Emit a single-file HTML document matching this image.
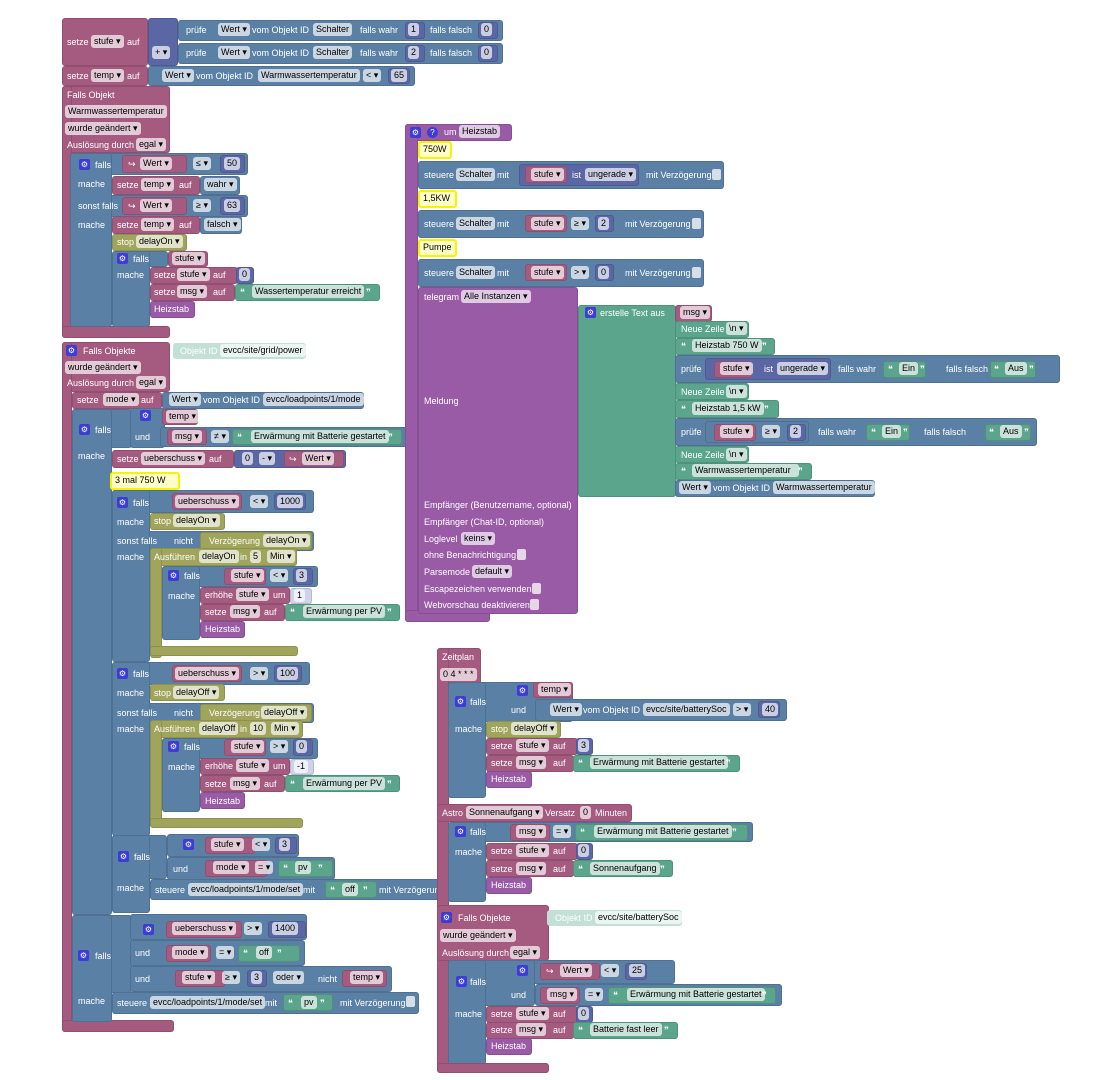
<!DOCTYPE html>
<html><head><meta charset="utf-8"><style>
body{margin:0;width:1106px;height:1080px;background:#fff;position:relative;overflow:hidden;font-family:"Liberation Sans",sans-serif;font-size:9px}
.r{position:absolute;box-sizing:border-box;border:1px solid rgba(0,0,0,.12);border-radius:3px}
.m{background:#a55b80}.b{background:#5b80a5}.l{background:#5b67a5}.g{background:#5ba58c}.o{background:#a0a55b}.p{background:#995ba5}
.q{background:#c2e0d6;border-color:#c2e0d6}
.y{background:#ffffc8;border:2px solid #f5f500;color:#000;padding-left:3px;line-height:13px;font-size:9px}
.t{position:absolute;color:#fff;line-height:12px;white-space:nowrap}
.f{position:absolute;background:rgba(255,255,255,.68);color:#000;height:13px;line-height:13px;padding:0 3px;border-radius:3px;white-space:nowrap}
.i{position:absolute;width:11px;height:11px;background:#3d3dd6;border-radius:2px;color:#fff;font-size:8px;text-align:center;line-height:11px}
.c{position:absolute;width:9px;height:11px;background:rgba(255,255,255,.75);border-radius:2px}
</style></head><body>

<!-- top blocks -->
<div class="r m" style="left:62px;top:18px;width:86px;height:48px"></div>
<span class="t" style="left:67px;top:36px">setze</span><span class="f" style="left:91px;top:35px">stufe ▾</span><span class="t" style="left:127px;top:36px">auf</span>
<div class="r l" style="left:148px;top:18px;width:30px;height:48px"></div>
<span class="f" style="left:152px;top:46px">+ ▾</span>
<div class="r b" style="left:178px;top:20px;width:325px;height:21px"></div>
<span class="t" style="left:186px;top:24px">prüfe</span><span class="f" style="left:218px;top:23px">Wert ▾</span><span class="t" style="left:252px;top:24px">vom Objekt ID</span><span class="f" style="left:313px;top:23px">Schalter</span><span class="t" style="left:360px;top:24px">falls wahr</span>
<div class="r l" style="left:405px;top:22px;width:20px;height:17px"></div><span class="f" style="left:408px;top:23px">1</span>
<span class="t" style="left:430px;top:24px">falls falsch</span><div class="r l" style="left:478px;top:22px;width:20px;height:17px"></div><span class="f" style="left:481px;top:23px">0</span>
<div class="r b" style="left:178px;top:43px;width:325px;height:21px"></div>
<span class="t" style="left:186px;top:47px">prüfe</span><span class="f" style="left:218px;top:46px">Wert ▾</span><span class="t" style="left:252px;top:47px">vom Objekt ID</span><span class="f" style="left:313px;top:46px">Schalter</span><span class="t" style="left:360px;top:47px">falls wahr</span>
<div class="r l" style="left:405px;top:45px;width:20px;height:17px"></div><span class="f" style="left:408px;top:46px">2</span>
<span class="t" style="left:430px;top:47px">falls falsch</span><div class="r l" style="left:478px;top:45px;width:20px;height:17px"></div><span class="f" style="left:481px;top:46px">0</span>
<div class="r m" style="left:62px;top:66px;width:86px;height:20px"></div>
<span class="t" style="left:67px;top:70px">setze</span><span class="f" style="left:91px;top:69px">temp ▾</span><span class="t" style="left:127px;top:70px">auf</span>
<div class="r b" style="left:148px;top:66px;width:267px;height:20px"></div>
<span class="f" style="left:162px;top:69px">Wert ▾</span><span class="t" style="left:196px;top:70px">vom Objekt ID</span><span class="f" style="left:258px;top:69px">Warmwassertemperatur</span><span class="f" style="left:363px;top:69px">&lt; ▾</span>
<div class="r l" style="left:388px;top:68px;width:22px;height:16px"></div><span class="f" style="left:391px;top:69px">65</span>

<!-- event 1 -->
<div class="r m" style="left:62px;top:86px;width:108px;height:67px"></div>
<div class="r m" style="left:62px;top:86px;width:10px;height:252px"></div>
<div class="r m" style="left:62px;top:326px;width:108px;height:12px"></div>
<span class="t" style="left:67px;top:89px">Falls Objekt</span>
<span class="f" style="left:65px;top:105px">Warmwassertemperatur</span>
<span class="f" style="left:65px;top:122px">wurde geändert ▾</span>
<span class="t" style="left:67px;top:139px">Auslösung durch</span><span class="f" style="left:136px;top:138px">egal ▾</span>
<div class="r b" style="left:70px;top:153px;width:178px;height:22px"></div>
<div class="r b" style="left:70px;top:195px;width:178px;height:22px"></div>
<div class="r b" style="left:70px;top:153px;width:42px;height:174px"></div>
<div class="i" style="left:79px;top:159px">⚙</div><span class="t" style="left:95px;top:159px">falls</span>
<div class="r m" style="left:122px;top:155px;width:65px;height:18px"></div><span class="t" style="left:128px;top:158px">↪</span><span class="f" style="left:140px;top:157px">Wert ▾</span>
<span class="f" style="left:193px;top:157px">≤ ▾</span><div class="r l" style="left:220px;top:155px;width:25px;height:18px"></div><span class="f" style="left:224px;top:157px">50</span>
<span class="t" style="left:78px;top:178px">mache</span>
<div class="r m" style="left:112px;top:176px;width:88px;height:19px"></div><span class="t" style="left:117px;top:179px">setze</span><span class="f" style="left:141px;top:178px">temp ▾</span><span class="t" style="left:179px;top:179px">auf</span>
<div class="r b" style="left:200px;top:176px;width:40px;height:19px"></div><span class="f" style="left:204px;top:178px">wahr ▾</span>
<span class="t" style="left:78px;top:200px">sonst falls</span>
<div class="r m" style="left:122px;top:197px;width:65px;height:18px"></div><span class="t" style="left:128px;top:200px">↪</span><span class="f" style="left:140px;top:199px">Wert ▾</span>
<span class="f" style="left:193px;top:199px">≥ ▾</span><div class="r l" style="left:220px;top:197px;width:25px;height:18px"></div><span class="f" style="left:224px;top:199px">63</span>
<span class="t" style="left:78px;top:219px">mache</span>
<div class="r m" style="left:112px;top:216px;width:88px;height:18px"></div><span class="t" style="left:117px;top:219px">setze</span><span class="f" style="left:141px;top:218px">temp ▾</span><span class="t" style="left:179px;top:219px">auf</span>
<div class="r b" style="left:200px;top:216px;width:42px;height:18px"></div><span class="f" style="left:204px;top:218px">falsch ▾</span>
<div class="r o" style="left:112px;top:234px;width:75px;height:17px"></div><span class="t" style="left:117px;top:236px">stop</span><span class="f" style="left:136px;top:235px">delayOn ▾</span>
<div class="r b" style="left:112px;top:251px;width:56px;height:16px"></div>
<div class="r b" style="left:112px;top:251px;width:38px;height:76px"></div>
<div class="i" style="left:117px;top:253px">⚙</div><span class="t" style="left:133px;top:253px">falls</span>
<div class="r m" style="left:168px;top:251px;width:40px;height:16px"></div><span class="f" style="left:172px;top:252px">stufe ▾</span>
<span class="t" style="left:117px;top:269px">mache</span>
<div class="r m" style="left:150px;top:267px;width:88px;height:17px"></div><span class="t" style="left:154px;top:269px">setze</span><span class="f" style="left:177px;top:268px">stufe ▾</span><span class="t" style="left:213px;top:269px">auf</span>
<div class="r l" style="left:236px;top:267px;width:18px;height:17px"></div><span class="f" style="left:239px;top:268px">0</span>
<div class="r m" style="left:150px;top:284px;width:85px;height:17px"></div><span class="t" style="left:154px;top:286px">setze</span><span class="f" style="left:177px;top:285px">msg ▾</span><span class="t" style="left:213px;top:286px">auf</span>
<div class="r g" style="left:235px;top:284px;width:145px;height:17px"></div><span class="t" style="left:240px;top:286px">❝</span><span class="f" style="left:252px;top:285px">Wassertemperatur erreicht</span><span class="t" style="left:366px;top:286px">❞</span>
<div class="r p" style="left:150px;top:301px;width:45px;height:17px"></div><span class="t" style="left:154px;top:303px">Heizstab</span>

<!-- event 2 -->
<div class="r m" style="left:62px;top:342px;width:108px;height:50px"></div>
<div class="r m" style="left:62px;top:342px;width:10px;height:690px"></div>
<div class="r m" style="left:62px;top:1020px;width:112px;height:12px"></div>
<div class="i" style="left:66px;top:345px">⚙</div><span class="t" style="left:83px;top:345px">Falls Objekte</span>
<div class="r q" style="left:173px;top:343px;width:133px;height:16px"></div><span class="t" style="left:180px;top:345px">Objekt ID</span><span class="f" style="left:220px;top:344px">evcc/site/grid/power</span>
<span class="f" style="left:65px;top:361px">wurde geändert ▾</span>
<span class="t" style="left:67px;top:377px">Auslösung durch</span><span class="f" style="left:136px;top:376px">egal ▾</span>
<div class="r m" style="left:72px;top:392px;width:90px;height:17px"></div><span class="t" style="left:77px;top:394px">setze</span><span class="f" style="left:103px;top:393px">mode ▾</span><span class="t" style="left:141px;top:394px">auf</span>
<div class="r b" style="left:162px;top:392px;width:202px;height:17px"></div><span class="f" style="left:169px;top:393px">Wert ▾</span><span class="t" style="left:203px;top:394px">vom Objekt ID</span><span class="f" style="left:263px;top:393px">evcc/loadpoints/1/mode</span>
<!-- big falls -->
<div class="r b" style="left:72px;top:409px;width:60px;height:39px"></div>
<div class="r b" style="left:72px;top:409px;width:40px;height:506px"></div>
<div class="i" style="left:79px;top:424px">⚙</div><span class="t" style="left:95px;top:424px">falls</span>
<div class="r b" style="left:130px;top:408px;width:35px;height:40px"></div>
<div class="i" style="left:140px;top:410px">⚙</div>
<div class="r m" style="left:162px;top:409px;width:36px;height:16px"></div><span class="f" style="left:166px;top:410px">temp ▾</span>
<span class="t" style="left:135px;top:431px">und</span>
<div class="r b" style="left:160px;top:427px;width:248px;height:20px"></div>
<div class="r m" style="left:167px;top:429px;width:40px;height:16px"></div><span class="f" style="left:172px;top:430px">msg ▾</span><span class="f" style="left:211px;top:430px">≠ ▾</span>
<div class="r g" style="left:232px;top:429px;width:170px;height:16px"></div><span class="t" style="left:237px;top:431px">❝</span><span class="f" style="left:251px;top:430px">Erwärmung mit Batterie gestartet</span><span class="t" style="left:388px;top:431px">❞</span>
<span class="t" style="left:78px;top:450px">mache</span>
<div class="r m" style="left:112px;top:450px;width:122px;height:18px"></div><span class="t" style="left:117px;top:453px">setze</span><span class="f" style="left:141px;top:452px">ueberschuss ▾</span><span class="t" style="left:209px;top:453px">auf</span>
<div class="r l" style="left:234px;top:450px;width:112px;height:18px"></div><span class="f" style="left:242px;top:452px">0</span><span class="f" style="left:259px;top:452px">- ▾</span>
<div class="r m" style="left:284px;top:451px;width:60px;height:16px"></div><span class="t" style="left:289px;top:453px">↪</span><span class="f" style="left:302px;top:452px">Wert ▾</span>
<div class="r y" style="left:110px;top:472px;width:70px;height:18px">3 mal 750 W</div>
<!-- falls 1000 -->
<div class="r b" style="left:112px;top:490px;width:202px;height:23px"></div>
<div class="r b" style="left:112px;top:531px;width:202px;height:20px"></div>
<div class="r b" style="left:112px;top:490px;width:38px;height:172px"></div>
<div class="i" style="left:117px;top:497px">⚙</div><span class="t" style="left:133px;top:497px">falls</span>
<div class="r m" style="left:172px;top:493px;width:70px;height:17px"></div><span class="f" style="left:175px;top:495px">ueberschuss ▾</span><span class="f" style="left:250px;top:495px">&lt; ▾</span>
<div class="r l" style="left:274px;top:493px;width:32px;height:17px"></div><span class="f" style="left:277px;top:495px">1000</span>
<span class="t" style="left:117px;top:516px">mache</span>
<div class="r o" style="left:150px;top:513px;width:75px;height:17px"></div><span class="t" style="left:154px;top:515px">stop</span><span class="f" style="left:173px;top:514px">delayOn ▾</span>
<span class="t" style="left:117px;top:535px">sonst falls</span><span class="t" style="left:174px;top:535px">nicht</span>
<div class="r o" style="left:200px;top:532px;width:112px;height:18px"></div><span class="t" style="left:209px;top:535px">Verzögerung</span><span class="f" style="left:263px;top:534px">delayOn ▾</span>
<span class="t" style="left:117px;top:551px">mache</span>
<div class="r o" style="left:150px;top:548px;width:147px;height:18px"></div><div class="r o" style="left:150px;top:548px;width:12px;height:110px"></div><div class="r o" style="left:150px;top:646px;width:148px;height:10px"></div>
<span class="t" style="left:154px;top:551px">Ausführen</span><span class="f" style="left:199px;top:550px">delayOn</span><span class="t" style="left:240px;top:551px">in</span><span class="f" style="left:250px;top:550px">5</span><span class="f" style="left:267px;top:550px">Min ▾</span>
<div class="r b" style="left:162px;top:566px;width:156px;height:21px"></div>
<div class="r b" style="left:162px;top:566px;width:38px;height:74px"></div>
<div class="i" style="left:168px;top:570px">⚙</div><span class="t" style="left:184px;top:570px">falls</span>
<div class="r m" style="left:224px;top:568px;width:42px;height:17px"></div><span class="f" style="left:231px;top:569px">stufe ▾</span><span class="f" style="left:270px;top:569px">&lt; ▾</span>
<div class="r l" style="left:293px;top:568px;width:20px;height:17px"></div><span class="f" style="left:296px;top:569px">3</span>
<span class="t" style="left:168px;top:590px">mache</span>
<div class="r m" style="left:200px;top:587px;width:90px;height:17px"></div><span class="t" style="left:205px;top:589px">erhöhe</span><span class="f" style="left:236px;top:588px">stufe ▾</span><span class="t" style="left:273px;top:589px">um</span>
<div class="r" style="left:290px;top:588px;width:22px;height:16px;background:#cfd3ea"></div><span class="f" style="left:294px;top:589px">1</span>
<div class="r m" style="left:200px;top:604px;width:85px;height:17px"></div><span class="t" style="left:205px;top:606px">setze</span><span class="f" style="left:230px;top:605px">msg ▾</span><span class="t" style="left:264px;top:606px">auf</span>
<div class="r g" style="left:285px;top:604px;width:115px;height:17px"></div><span class="t" style="left:290px;top:606px">❝</span><span class="f" style="left:303px;top:605px">Erwärmung per PV</span><span class="t" style="left:387px;top:606px">❞</span>
<div class="r p" style="left:200px;top:621px;width:45px;height:17px"></div><span class="t" style="left:205px;top:623px">Heizstab</span>
<!-- falls 100 -->
<div class="r b" style="left:112px;top:662px;width:198px;height:23px"></div>
<div class="r b" style="left:112px;top:703px;width:202px;height:20px"></div>
<div class="r b" style="left:112px;top:662px;width:38px;height:174px"></div>
<div class="i" style="left:117px;top:668px">⚙</div><span class="t" style="left:133px;top:668px">falls</span>
<div class="r m" style="left:172px;top:665px;width:70px;height:17px"></div><span class="f" style="left:175px;top:667px">ueberschuss ▾</span><span class="f" style="left:250px;top:667px">&gt; ▾</span>
<div class="r l" style="left:274px;top:665px;width:28px;height:17px"></div><span class="f" style="left:277px;top:667px">100</span>
<span class="t" style="left:117px;top:687px">mache</span>
<div class="r o" style="left:150px;top:684px;width:75px;height:17px"></div><span class="t" style="left:154px;top:687px">stop</span><span class="f" style="left:173px;top:686px">delayOff ▾</span>
<span class="t" style="left:117px;top:707px">sonst falls</span><span class="t" style="left:174px;top:707px">nicht</span>
<div class="r o" style="left:200px;top:704px;width:112px;height:18px"></div><span class="t" style="left:209px;top:707px">Verzögerung</span><span class="f" style="left:261px;top:706px">delayOff ▾</span>
<span class="t" style="left:117px;top:723px">mache</span>
<div class="r o" style="left:150px;top:720px;width:153px;height:18px"></div><div class="r o" style="left:150px;top:720px;width:12px;height:108px"></div><div class="r o" style="left:150px;top:818px;width:153px;height:10px"></div>
<span class="t" style="left:154px;top:723px">Ausführen</span><span class="f" style="left:199px;top:722px">delayOff</span><span class="t" style="left:240px;top:723px">in</span><span class="f" style="left:250px;top:722px">10</span><span class="f" style="left:271px;top:722px">Min ▾</span>
<div class="r b" style="left:162px;top:738px;width:156px;height:21px"></div>
<div class="r b" style="left:162px;top:738px;width:38px;height:74px"></div>
<div class="i" style="left:168px;top:741px">⚙</div><span class="t" style="left:184px;top:741px">falls</span>
<div class="r m" style="left:224px;top:739px;width:42px;height:17px"></div><span class="f" style="left:231px;top:740px">stufe ▾</span><span class="f" style="left:270px;top:740px">&gt; ▾</span>
<div class="r l" style="left:293px;top:739px;width:20px;height:17px"></div><span class="f" style="left:296px;top:740px">0</span>
<span class="t" style="left:168px;top:761px">mache</span>
<div class="r m" style="left:200px;top:758px;width:90px;height:17px"></div><span class="t" style="left:205px;top:760px">erhöhe</span><span class="f" style="left:236px;top:759px">stufe ▾</span><span class="t" style="left:273px;top:760px">um</span>
<div class="r" style="left:290px;top:759px;width:24px;height:16px;background:#cfd3ea"></div><span class="f" style="left:294px;top:760px">-1</span>
<div class="r m" style="left:200px;top:775px;width:85px;height:17px"></div><span class="t" style="left:205px;top:778px">setze</span><span class="f" style="left:230px;top:777px">msg ▾</span><span class="t" style="left:264px;top:778px">auf</span>
<div class="r g" style="left:285px;top:775px;width:115px;height:17px"></div><span class="t" style="left:290px;top:778px">❝</span><span class="f" style="left:303px;top:777px">Erwärmung per PV</span><span class="t" style="left:387px;top:778px">❞</span>
<div class="r p" style="left:200px;top:792px;width:45px;height:17px"></div><span class="t" style="left:205px;top:795px">Heizstab</span>
<!-- falls stufe<3 -->
<div class="r b" style="left:112px;top:835px;width:55px;height:44px"></div>
<div class="r b" style="left:112px;top:835px;width:38px;height:78px"></div>
<div class="i" style="left:118px;top:851px">⚙</div><span class="t" style="left:134px;top:851px">falls</span>
<div class="r b" style="left:167px;top:834px;width:132px;height:23px"></div>
<div class="r b" style="left:167px;top:857px;width:168px;height:23px"></div>
<div class="i" style="left:183px;top:839px">⚙</div>
<div class="r m" style="left:205px;top:837px;width:50px;height:17px"></div><span class="f" style="left:211px;top:838px">stufe ▾</span><span class="f" style="left:252px;top:838px">&lt; ▾</span>
<div class="r l" style="left:275px;top:837px;width:22px;height:17px"></div><span class="f" style="left:279px;top:838px">3</span>
<span class="t" style="left:173px;top:863px">und</span>
<div class="r m" style="left:205px;top:860px;width:62px;height:17px"></div><span class="f" style="left:213px;top:861px">mode ▾</span><span class="f" style="left:255px;top:861px">= ▾</span>
<div class="r g" style="left:278px;top:860px;width:55px;height:17px"></div><span class="t" style="left:283px;top:862px">❝</span><span class="f" style="left:295px;top:861px">pv</span><span class="t" style="left:318px;top:862px">❞</span>
<span class="t" style="left:117px;top:882px">mache</span>
<div class="r b" style="left:150px;top:879px;width:292px;height:21px"></div>
<span class="t" style="left:155px;top:884px">steuere</span><span class="f" style="left:188px;top:883px">evcc/loadpoints/1/mode/set</span><span class="t" style="left:303px;top:884px">mit</span>
<div class="r g" style="left:325px;top:881px;width:52px;height:17px"></div><span class="t" style="left:330px;top:884px">❝</span><span class="f" style="left:342px;top:883px">off</span><span class="t" style="left:363px;top:884px">❞</span>
<span class="t" style="left:379px;top:884px">mit Verzögerung</span>
<!-- falls 1400 -->
<div class="r b" style="left:72px;top:915px;width:60px;height:78px"></div>
<div class="r b" style="left:72px;top:915px;width:40px;height:107px"></div>
<div class="i" style="left:78px;top:950px">⚙</div><span class="t" style="left:95px;top:950px">falls</span>
<div class="r b" style="left:130px;top:914px;width:177px;height:26px"></div>
<div class="r b" style="left:130px;top:940px;width:175px;height:26px"></div>
<div class="r b" style="left:130px;top:966px;width:262px;height:26px"></div>
<div class="i" style="left:143px;top:924px">⚙</div>
<div class="r m" style="left:166px;top:921px;width:76px;height:17px"></div><span class="f" style="left:172px;top:922px">ueberschuss ▾</span><span class="f" style="left:244px;top:922px">&gt; ▾</span>
<div class="r l" style="left:268px;top:921px;width:38px;height:17px"></div><span class="f" style="left:272px;top:922px">1400</span>
<span class="t" style="left:135px;top:947px">und</span>
<div class="r m" style="left:166px;top:945px;width:45px;height:17px"></div><span class="f" style="left:172px;top:946px">mode ▾</span><span class="f" style="left:216px;top:946px">= ▾</span>
<div class="r g" style="left:238px;top:945px;width:62px;height:17px"></div><span class="t" style="left:243px;top:947px">❝</span><span class="f" style="left:256px;top:946px">off</span><span class="t" style="left:277px;top:947px">❞</span>
<span class="t" style="left:135px;top:973px">und</span>
<div class="r m" style="left:175px;top:970px;width:50px;height:17px"></div><span class="f" style="left:182px;top:971px">stufe ▾</span><span class="f" style="left:222px;top:971px">≥ ▾</span>
<div class="r l" style="left:247px;top:970px;width:20px;height:17px"></div><span class="f" style="left:251px;top:971px">3</span>
<span class="f" style="left:273px;top:971px">oder ▾</span><span class="t" style="left:318px;top:973px">nicht</span>
<div class="r m" style="left:342px;top:970px;width:45px;height:17px"></div><span class="f" style="left:350px;top:971px">temp ▾</span>
<span class="t" style="left:78px;top:995px">mache</span>
<div class="r b" style="left:112px;top:992px;width:307px;height:22px"></div>
<span class="t" style="left:117px;top:997px">steuere</span><span class="f" style="left:150px;top:996px">evcc/loadpoints/1/mode/set</span><span class="t" style="left:265px;top:997px">mit</span>
<div class="r g" style="left:283px;top:994px;width:50px;height:17px"></div><span class="t" style="left:288px;top:997px">❝</span><span class="f" style="left:301px;top:996px">pv</span><span class="t" style="left:320px;top:997px">❞</span>
<span class="t" style="left:340px;top:997px">mit Verzögerung</span><div class="c" style="left:406px;top:996px"></div>

<!-- procedure Heizstab -->
<div class="r p" style="left:405px;top:124px;width:107px;height:17px"></div>
<div class="r p" style="left:405px;top:124px;width:13px;height:498px"></div>
<div class="r p" style="left:405px;top:610px;width:85px;height:12px"></div>
<div class="i" style="left:410px;top:127px">⚙</div><div class="i" style="left:427px;top:127px;border-radius:6px">?</div>
<span class="t" style="left:444px;top:126px">um</span><span class="f" style="left:459px;top:125px">Heizstab</span>
<div class="r y" style="left:418px;top:141px;width:34px;height:18px">750W</div>
<div class="r b" style="left:418px;top:161px;width:306px;height:28px"></div>
<span class="t" style="left:424px;top:169px">steuere</span><span class="f" style="left:456px;top:168px">Schalter</span><span class="t" style="left:497px;top:169px">mit</span>
<div class="r l" style="left:519px;top:164px;width:120px;height:22px"></div>
<div class="r m" style="left:525px;top:166px;width:42px;height:17px"></div><span class="f" style="left:531px;top:168px">stufe ▾</span><span class="t" style="left:572px;top:169px">ist</span><span class="f" style="left:585px;top:168px">ungerade ▾</span>
<span class="t" style="left:646px;top:169px">mit Verzögerung</span><div class="c" style="left:712px;top:169px"></div>
<div class="r y" style="left:418px;top:190px;width:39px;height:18px">1,5KW</div>
<div class="r b" style="left:418px;top:210px;width:286px;height:28px"></div>
<span class="t" style="left:424px;top:218px">steuere</span><span class="f" style="left:456px;top:217px">Schalter</span><span class="t" style="left:497px;top:218px">mit</span>
<div class="r m" style="left:525px;top:215px;width:42px;height:17px"></div><span class="f" style="left:531px;top:217px">stufe ▾</span><span class="f" style="left:571px;top:217px">≥ ▾</span>
<div class="r l" style="left:595px;top:215px;width:19px;height:17px"></div><span class="f" style="left:598px;top:217px">2</span>
<span class="t" style="left:625px;top:218px">mit Verzögerung</span><div class="c" style="left:692px;top:218px"></div>
<div class="r y" style="left:418px;top:239px;width:39px;height:18px">Pumpe</div>
<div class="r b" style="left:418px;top:259px;width:286px;height:28px"></div>
<span class="t" style="left:424px;top:267px">steuere</span><span class="f" style="left:456px;top:266px">Schalter</span><span class="t" style="left:497px;top:267px">mit</span>
<div class="r m" style="left:525px;top:264px;width:42px;height:17px"></div><span class="f" style="left:531px;top:266px">stufe ▾</span><span class="f" style="left:571px;top:266px">&gt; ▾</span>
<div class="r l" style="left:595px;top:264px;width:19px;height:17px"></div><span class="f" style="left:598px;top:266px">0</span>
<span class="t" style="left:625px;top:267px">mit Verzögerung</span><div class="c" style="left:692px;top:267px"></div>
<div class="r p" style="left:418px;top:287px;width:160px;height:327px"></div>
<span class="t" style="left:424px;top:291px">telegram</span><span class="f" style="left:461px;top:290px">Alle Instanzen ▾</span>
<span class="t" style="left:424px;top:395px">Meldung</span>
<span class="t" style="left:424px;top:499px">Empfänger (Benutzername, optional)</span>
<span class="t" style="left:424px;top:516px">Empfänger (Chat-ID, optional)</span>
<span class="t" style="left:424px;top:533px">Loglevel</span><span class="f" style="left:461px;top:532px">keins ▾</span>
<span class="t" style="left:424px;top:549px">ohne Benachrichtigung</span><div class="c" style="left:517px;top:549px"></div>
<span class="t" style="left:424px;top:566px">Parsemode</span><span class="f" style="left:472px;top:565px">default ▾</span>
<span class="t" style="left:424px;top:583px">Escapezeichen verwenden</span><div class="c" style="left:532px;top:583px"></div>
<span class="t" style="left:424px;top:599px">Webvorschau deaktivieren</span><div class="c" style="left:530px;top:599px"></div>
<div class="r g" style="left:578px;top:305px;width:98px;height:192px"></div>
<div class="i" style="left:585px;top:307px">⚙</div><span class="t" style="left:600px;top:307px">erstelle Text aus</span>
<div class="r m" style="left:675px;top:305px;width:37px;height:17px"></div><span class="f" style="left:680px;top:306px">msg ▾</span>
<div class="r g" style="left:675px;top:321px;width:74px;height:17px"></div><span class="t" style="left:681px;top:323px">Neue Zeile</span><span class="f" style="left:726px;top:322px">\n ▾</span>
<div class="r g" style="left:675px;top:338px;width:100px;height:17px"></div><span class="t" style="left:681px;top:340px">❝</span><span class="f" style="left:692px;top:339px">Heizstab 750 W</span><span class="t" style="left:762px;top:340px">❞</span>
<div class="r b" style="left:675px;top:355px;width:385px;height:28px"></div>
<span class="t" style="left:681px;top:363px">prüfe</span>
<div class="r l" style="left:705px;top:358px;width:126px;height:22px"></div>
<div class="r m" style="left:714px;top:361px;width:38px;height:17px"></div><span class="f" style="left:720px;top:362px">stufe ▾</span><span class="t" style="left:764px;top:363px">ist</span><span class="f" style="left:777px;top:362px">ungerade ▾</span>
<span class="t" style="left:838px;top:363px">falls wahr</span>
<div class="r g" style="left:883px;top:361px;width:43px;height:17px"></div><span class="t" style="left:888px;top:363px">❝</span><span class="f" style="left:899px;top:362px">Ein</span><span class="t" style="left:920px;top:363px">❞</span>
<span class="t" style="left:946px;top:363px">falls falsch</span>
<div class="r g" style="left:990px;top:361px;width:46px;height:17px"></div><span class="t" style="left:994px;top:363px">❝</span><span class="f" style="left:1005px;top:362px">Aus</span><span class="t" style="left:1029px;top:363px">❞</span>
<div class="r g" style="left:675px;top:383px;width:74px;height:17px"></div><span class="t" style="left:681px;top:386px">Neue Zeile</span><span class="f" style="left:726px;top:385px">\n ▾</span>
<div class="r g" style="left:675px;top:400px;width:104px;height:18px"></div><span class="t" style="left:681px;top:403px">❝</span><span class="f" style="left:692px;top:402px">Heizstab 1,5 kW</span><span class="t" style="left:764px;top:403px">❞</span>
<div class="r b" style="left:675px;top:418px;width:362px;height:28px"></div>
<span class="t" style="left:681px;top:426px">prüfe</span>
<div class="r b" style="left:705px;top:421px;width:104px;height:22px"></div>
<div class="r m" style="left:714px;top:424px;width:42px;height:17px"></div><span class="f" style="left:720px;top:425px">stufe ▾</span><span class="f" style="left:762px;top:425px">≥ ▾</span>
<div class="r l" style="left:787px;top:424px;width:19px;height:17px"></div><span class="f" style="left:790px;top:425px">2</span>
<span class="t" style="left:818px;top:426px">falls wahr</span>
<div class="r g" style="left:866px;top:424px;width:44px;height:17px"></div><span class="t" style="left:871px;top:426px">❝</span><span class="f" style="left:882px;top:425px">Ein</span><span class="t" style="left:903px;top:426px">❞</span>
<span class="t" style="left:924px;top:426px">falls falsch</span>
<div class="r g" style="left:985px;top:424px;width:46px;height:17px"></div><span class="t" style="left:989px;top:426px">❝</span><span class="f" style="left:1000px;top:425px">Aus</span><span class="t" style="left:1024px;top:426px">❞</span>
<div class="r g" style="left:675px;top:446px;width:74px;height:17px"></div><span class="t" style="left:681px;top:449px">Neue Zeile</span><span class="f" style="left:726px;top:448px">\n ▾</span>
<div class="r g" style="left:675px;top:463px;width:137px;height:17px"></div><span class="t" style="left:681px;top:465px">❝</span><span class="f" style="left:692px;top:464px">Warmwassertemperatur&nbsp;&nbsp;</span><span class="t" style="left:798px;top:465px">❞</span>
<div class="r b" style="left:675px;top:480px;width:200px;height:17px"></div><span class="f" style="left:679px;top:481px">Wert ▾</span><span class="t" style="left:713px;top:482px">vom Objekt ID</span><span class="f" style="left:773px;top:481px">Warmwassertemperatur</span>

<!-- Zeitplan column -->
<div class="r m" style="left:437px;top:648px;width:44px;height:36px"></div>
<div class="r m" style="left:437px;top:648px;width:12px;height:425px"></div>
<span class="t" style="left:442px;top:651px">Zeitplan</span><span class="f" style="left:440px;top:668px">0 4 * * *</span>
<div class="r b" style="left:448px;top:682px;width:125px;height:40px"></div>
<div class="r b" style="left:448px;top:682px;width:38px;height:116px"></div>
<div class="i" style="left:455px;top:696px">⚙</div><span class="t" style="left:470px;top:696px">falls</span>
<div class="i" style="left:517px;top:685px">⚙</div>
<div class="r m" style="left:533px;top:682px;width:40px;height:16px"></div><span class="f" style="left:538px;top:683px">temp ▾</span>
<span class="t" style="left:511px;top:704px">und</span>
<div class="r b" style="left:535px;top:699px;width:252px;height:22px"></div>
<span class="f" style="left:550px;top:703px">Wert ▾</span><span class="t" style="left:583px;top:704px">vom Objekt ID</span><span class="f" style="left:643px;top:703px">evcc/site/batterySoc</span><span class="f" style="left:733px;top:703px">&gt; ▾</span>
<div class="r l" style="left:758px;top:701px;width:22px;height:17px"></div><span class="f" style="left:762px;top:703px">40</span>
<span class="t" style="left:455px;top:723px">mache</span>
<div class="r o" style="left:486px;top:721px;width:75px;height:17px"></div><span class="t" style="left:491px;top:723px">stop</span><span class="f" style="left:511px;top:722px">delayOff ▾</span>
<div class="r m" style="left:486px;top:738px;width:92px;height:17px"></div><span class="t" style="left:491px;top:740px">setze</span><span class="f" style="left:516px;top:739px">stufe ▾</span><span class="t" style="left:553px;top:740px">auf</span>
<div class="r l" style="left:576px;top:738px;width:17px;height:17px"></div><span class="f" style="left:578px;top:739px">3</span>
<div class="r m" style="left:486px;top:755px;width:88px;height:17px"></div><span class="t" style="left:491px;top:757px">setze</span><span class="f" style="left:516px;top:756px">msg ▾</span><span class="t" style="left:553px;top:757px">auf</span>
<div class="r g" style="left:573px;top:755px;width:167px;height:17px"></div><span class="t" style="left:578px;top:757px">❝</span><span class="f" style="left:590px;top:756px">Erwärmung mit Batterie gestartet</span><span class="t" style="left:726px;top:757px">❞</span>
<div class="r p" style="left:486px;top:771px;width:46px;height:17px"></div><span class="t" style="left:491px;top:773px">Heizstab</span>
<div class="r m" style="left:437px;top:804px;width:195px;height:18px"></div>
<span class="t" style="left:442px;top:807px">Astro</span><span class="f" style="left:466px;top:806px">Sonnenaufgang ▾</span><span class="t" style="left:540px;top:807px">, Versatz</span><span class="f" style="left:580px;top:806px">0</span><span class="t" style="left:595px;top:807px">Minuten</span>
<div class="r b" style="left:448px;top:822px;width:305px;height:20px"></div>
<div class="r b" style="left:448px;top:822px;width:38px;height:80px"></div>
<div class="i" style="left:455px;top:826px">⚙</div><span class="t" style="left:470px;top:826px">falls</span>
<div class="r m" style="left:510px;top:824px;width:40px;height:17px"></div><span class="f" style="left:516px;top:825px">msg ▾</span><span class="f" style="left:553px;top:825px">= ▾</span>
<div class="r g" style="left:575px;top:824px;width:173px;height:17px"></div><span class="t" style="left:580px;top:826px">❝</span><span class="f" style="left:594px;top:825px">Erwärmung mit Batterie gestartet</span><span class="t" style="left:732px;top:826px">❞</span>
<span class="t" style="left:455px;top:846px">mache</span>
<div class="r m" style="left:486px;top:843px;width:92px;height:17px"></div><span class="t" style="left:491px;top:845px">setze</span><span class="f" style="left:516px;top:844px">stufe ▾</span><span class="t" style="left:553px;top:845px">auf</span>
<div class="r l" style="left:576px;top:843px;width:17px;height:17px"></div><span class="f" style="left:578px;top:844px">0</span>
<div class="r m" style="left:486px;top:860px;width:88px;height:17px"></div><span class="t" style="left:491px;top:863px">setze</span><span class="f" style="left:516px;top:862px">msg ▾</span><span class="t" style="left:553px;top:863px">auf</span>
<div class="r g" style="left:573px;top:860px;width:100px;height:17px"></div><span class="t" style="left:578px;top:863px">❝</span><span class="f" style="left:590px;top:862px">Sonnenaufgang</span><span class="t" style="left:660px;top:863px">❞</span>
<div class="r p" style="left:486px;top:877px;width:46px;height:17px"></div><span class="t" style="left:491px;top:879px">Heizstab</span>
<div class="r m" style="left:437px;top:905px;width:112px;height:56px"></div>
<div class="i" style="left:441px;top:912px">⚙</div><span class="t" style="left:458px;top:912px">Falls Objekte</span>
<div class="r q" style="left:547px;top:910px;width:135px;height:16px"></div><span class="t" style="left:555px;top:912px">Objekt ID</span><span class="f" style="left:595px;top:911px">evcc/site/batterySoc</span>
<span class="f" style="left:440px;top:929px">wurde geändert ▾</span>
<span class="t" style="left:442px;top:947px">Auslösung durch</span><span class="f" style="left:510px;top:946px">egal ▾</span>
<div class="r b" style="left:448px;top:960px;width:227px;height:24px"></div>
<div class="r b" style="left:448px;top:960px;width:87px;height:46px"></div>
<div class="r b" style="left:535px;top:984px;width:247px;height:22px"></div>
<div class="r b" style="left:448px;top:960px;width:38px;height:105px"></div>
<div class="i" style="left:456px;top:976px">⚙</div><span class="t" style="left:470px;top:976px">falls</span>
<div class="i" style="left:517px;top:965px">⚙</div>
<div class="r m" style="left:540px;top:963px;width:60px;height:17px"></div><span class="t" style="left:546px;top:965px">↪</span><span class="f" style="left:560px;top:964px">Wert ▾</span><span class="f" style="left:601px;top:964px">&lt; ▾</span>
<div class="r l" style="left:625px;top:963px;width:22px;height:17px"></div><span class="f" style="left:629px;top:964px">25</span>
<span class="t" style="left:511px;top:989px">und</span>
<div class="r m" style="left:540px;top:987px;width:40px;height:17px"></div><span class="f" style="left:547px;top:988px">msg ▾</span><span class="f" style="left:585px;top:988px">= ▾</span>
<div class="r g" style="left:608px;top:987px;width:168px;height:17px"></div><span class="t" style="left:613px;top:989px">❝</span><span class="f" style="left:627px;top:988px">Erwärmung mit Batterie gestartet</span><span class="t" style="left:762px;top:989px">❞</span>
<span class="t" style="left:455px;top:1008px">mache</span>
<div class="r m" style="left:486px;top:1006px;width:92px;height:17px"></div><span class="t" style="left:491px;top:1008px">setze</span><span class="f" style="left:516px;top:1007px">stufe ▾</span><span class="t" style="left:553px;top:1008px">auf</span>
<div class="r l" style="left:576px;top:1006px;width:17px;height:17px"></div><span class="f" style="left:578px;top:1007px">0</span>
<div class="r m" style="left:486px;top:1022px;width:88px;height:17px"></div><span class="t" style="left:491px;top:1024px">setze</span><span class="f" style="left:516px;top:1023px">msg ▾</span><span class="t" style="left:553px;top:1024px">auf</span>
<div class="r g" style="left:573px;top:1022px;width:105px;height:17px"></div><span class="t" style="left:578px;top:1024px">❝</span><span class="f" style="left:590px;top:1023px">Batterie fast leer</span><span class="t" style="left:664px;top:1024px">❞</span>
<div class="r p" style="left:486px;top:1038px;width:46px;height:17px"></div><span class="t" style="left:491px;top:1040px">Heizstab</span>
<div class="r m" style="left:437px;top:1063px;width:112px;height:10px"></div>
</body></html>
